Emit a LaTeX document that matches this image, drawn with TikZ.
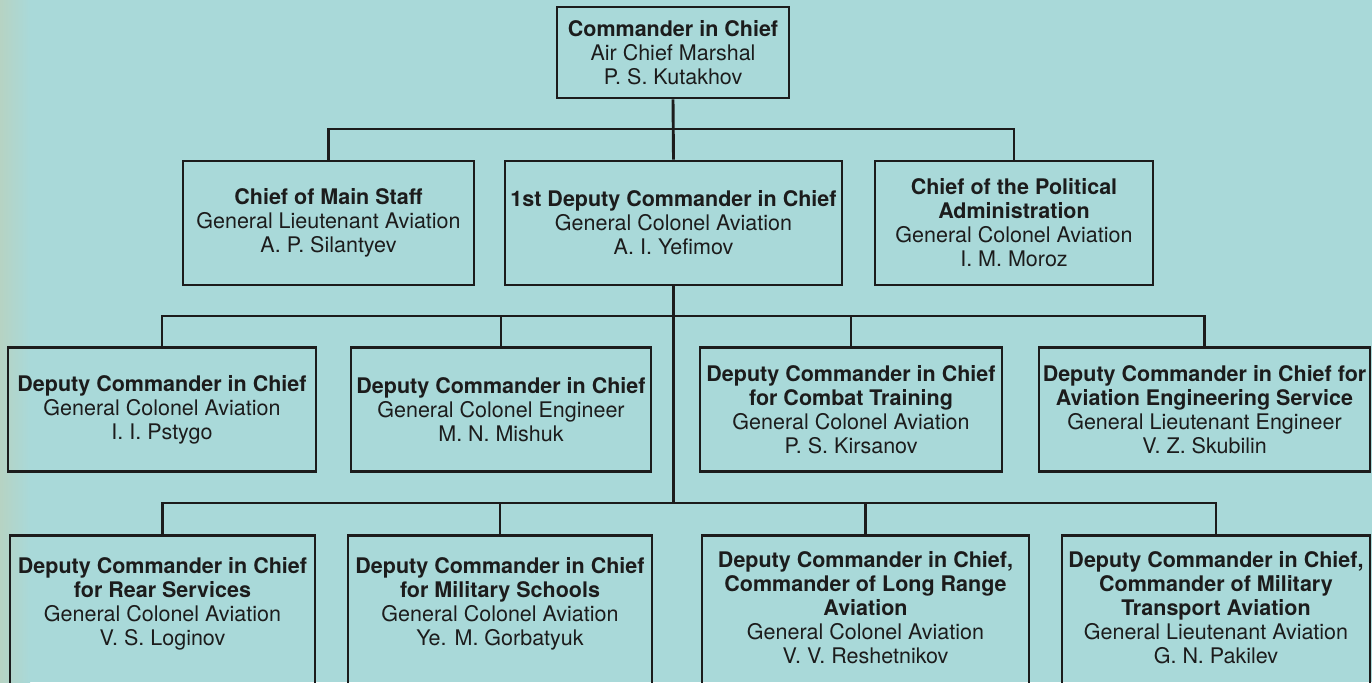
\documentclass[tikz,border=0pt]{standalone}
\usepackage{fontspec}
\setmainfont{TeX Gyre Heros}
\definecolor{bg}{HTML}{A9D9D9}
\definecolor{bgedge}{HTML}{B6D3C3}
\definecolor{ink}{HTML}{1C1C1C}
\begin{document}
\begin{tikzpicture}[x=1pt,y=-1pt,
  box/.style={draw=ink, line width=2.7pt, rectangle, inner sep=0pt, align=center,
    font=\fontsize{21.5}{24}\selectfont, text=ink},
  lbl/.style={align=center, inner sep=0pt, font=\fontsize{21.5}{24}\selectfont, text=ink},
  conn/.style={draw=ink, line width=2.9pt}]
\clip (0,0) rectangle (1372,682);
\fill[bg] (0,0) rectangle (1372,682);
\shade[left color=bgedge, right color=bg] (0,0) rectangle (30,682);

% level 1
\node[box, minimum width=232, minimum height=91] (top) at (673,52.5)
  {\textbf{Commander in Chief}\\Air Chief Marshal\\P. S. Kutakhov};

% level 2
\node[box, minimum width=291, minimum height=124] (ms) at (328.5,223)
  {\textbf{Chief of Main Staff}\\General Lieutenant Aviation\\A. P. Silantyev};
\node[box, minimum width=337, minimum height=124] (fd) at (673.5,223)
  {\textbf{1st Deputy Commander in Chief}\\General Colonel Aviation\\A. I. Yefimov};
\node[box, minimum width=278, minimum height=124] (pol) at (1014,223)
  {\textbf{Chief of the Political}\\\textbf{Administration}\\General Colonel Aviation\\I. M. Moroz};

% level 3
\node[box, minimum width=308, minimum height=124] (l3a) at (162,409.5)
  {\textbf{Deputy Commander in Chief}\\General Colonel Aviation\\I. I. Pstygo};
\node[box, minimum width=300, minimum height=124] (l3b) at (501,409.5)
  {\textbf{Deputy Commander in Chief}\\General Colonel Engineer\\M. N. Mishuk};
\node[box, minimum width=302, minimum height=124] (l3c) at (851,409.5)
  {\textbf{Deputy Commander in Chief}\\\textbf{for Combat Training}\\General Colonel Aviation\\P. S. Kirsanov};
\node[box, minimum width=331, minimum height=124] (l3d) at (1204.5,409.5)
  {\textbf{Deputy Commander in Chief for}\\\textbf{Aviation Engineering Service}\\General Lieutenant Engineer\\V. Z. Skubilin};

% level 4 (boxes run off the bottom edge)
\node[box, minimum width=305, minimum height=170, anchor=north] (l4a) at (162.5,534) {};
\node[box, minimum width=304, minimum height=170, anchor=north] (l4b) at (500,534) {};
\node[box, minimum width=327, minimum height=170, anchor=north] (l4c) at (865.5,534) {};
\node[box, minimum width=308, minimum height=170, anchor=north] (l4d) at (1216,534) {};
\node[lbl] (l4at) at (162.5,604)
  {\textbf{Deputy Commander in Chief}\\\textbf{for Rear Services}\\General Colonel Aviation\\V. S. Loginov};
\node[lbl] (l4bt) at (500,604)
  {\textbf{Deputy Commander in Chief}\\\textbf{for Military Schools}\\General Colonel Aviation\\Ye. M. Gorbatyuk};
\node[lbl] (l4ct) at (865.5,608)
  {\textbf{Deputy Commander in Chief,}\\\textbf{Commander of Long Range}\\\textbf{Aviation}\\General Colonel Aviation\\V. V. Reshetnikov};
\node[lbl] (l4dt) at (1216,608)
  {\textbf{Deputy Commander in Chief,}\\\textbf{Commander of Military}\\\textbf{Transport Aviation}\\General Lieutenant Aviation\\G. N. Pakilev};

% bar levels
\coordinate (b1) at (0,129);
\coordinate (b2) at (0,316);
\coordinate (b3) at (0,503);

% connectors
\draw[conn] (top.south) -- (fd.north);
\draw[conn] (ms.north) -- (ms.north |- b1) -- (pol.north |- b1) -- (pol.north);
\draw[conn] (fd.south) -- (fd.south |- b3);
\draw[conn] (l3a.north) -- (l3a.north |- b2) -- (l3d.north |- b2) -- (l3d.north);
\draw[conn] (l3b.north) -- (l3b.north |- b2);
\draw[conn] (l3c.north) -- (l3c.north |- b2);
\draw[conn] (l4a.north) -- (l4a.north |- b3) -- (l4d.north |- b3) -- (l4d.north);
\draw[conn] (l4b.north) -- (l4b.north |- b3);
\draw[conn] (l4c.north) -- (l4c.north |- b3);
\end{tikzpicture}
\end{document}
